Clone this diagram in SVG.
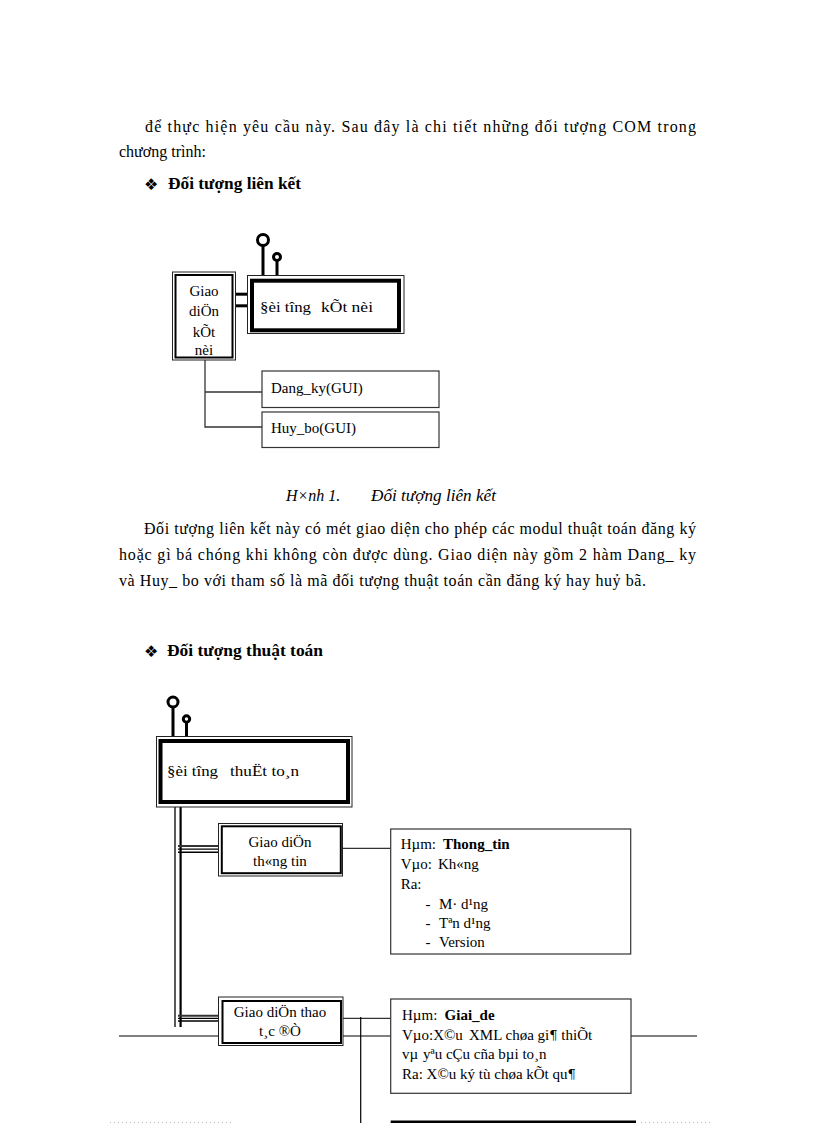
<svg xmlns="http://www.w3.org/2000/svg" width="816" height="1123" viewBox="0 0 816 1123">
<style>
.t{font-family:"Liberation Serif","Times New Roman",serif;font-size:16px;fill:#000}
.d{font-family:"Liberation Serif","Times New Roman",serif;font-size:15px;fill:#000}
.p{font-family:"DejaVu Serif",serif;font-size:13px;fill:#000}
.b{font-weight:bold}
.i{font-style:italic}
.bul{font-family:"DejaVu Sans",sans-serif;font-size:16px;fill:#000}
.thin{fill:#fff;stroke:#222;stroke-width:1}
.thick{fill:none;stroke:#000;stroke-width:4}
.dbl{fill:none;stroke:#000;stroke-width:2}
.box{fill:#fff;stroke:#333;stroke-width:1.2}
.ln{stroke:#333;stroke-width:1.3;fill:none}
.stem{stroke:#000;stroke-width:3}
.lol{fill:#fff;stroke:#000;stroke-width:3}
</style>
<rect width="816" height="1123" fill="#fff"/>

<!-- Body text -->
<g id="text">
<text class="t" x="145" y="132" textLength="551" lengthAdjust="spacing">để thực hiện yêu cầu này. Sau đây là chi tiết những đối tượng COM trong</text>
<text class="t" x="119" y="157">chương trình:</text>
<text class="bul" x="144" y="190">❖</text>
<text class="t b" x="168" y="189" textLength="133" lengthAdjust="spacingAndGlyphs">Đối tượng liên kết</text>
<text class="t i" x="286" y="501">H×nh 1.</text>
<text class="t i" x="371" y="501" textLength="125" lengthAdjust="spacingAndGlyphs">Đối tượng liên kết</text>
<text class="t" x="144" y="534" textLength="552" lengthAdjust="spacing">Đối tượng liên kết này có mét giao diện cho phép các modul thuật toán đăng ký</text>
<text class="t" x="119" y="560" textLength="577" lengthAdjust="spacing">hoặc gì bá chóng khi không còn được dùng. Giao diện này gồm 2 hàm Dang_ ky</text>
<text class="t" x="119" y="586" textLength="527" lengthAdjust="spacing">và Huy_ bo với tham số là mã đối tượng thuật toán cần đăng ký hay huỷ bã.</text>
<text class="bul" x="144" y="657">❖</text>
<text class="t b" x="167" y="656" textLength="156" lengthAdjust="spacingAndGlyphs">Đối tượng thuật toán</text>
</g>

<!-- Connectors -->
<g id="connectors">
<!-- diagram 1 -->
<line x1="235" y1="294.2" x2="251" y2="294.2" stroke="#000" stroke-width="3"/>
<line x1="235" y1="305.8" x2="251" y2="305.8" stroke="#000" stroke-width="3"/>
<polyline class="ln" points="205,360 205,427 262,427"/>
<line class="ln" x1="205" y1="392" x2="262" y2="392"/>
<!-- diagram 2 -->
<line x1="175" y1="807" x2="175" y2="1027" stroke="#000" stroke-width="1.3"/>
<line x1="180.6" y1="807" x2="180.6" y2="1027" stroke="#000" stroke-width="2.2"/>
<line x1="178" y1="846" x2="219" y2="846" stroke="#333" stroke-width="2"/>
<line x1="178" y1="849.2" x2="219" y2="849.2" stroke="#000" stroke-width="1.2"/>
<line x1="178" y1="852.3" x2="219" y2="852.3" stroke="#000" stroke-width="1.5"/>
<line x1="178" y1="1015.7" x2="219" y2="1015.7" stroke="#333" stroke-width="2"/>
<line x1="178" y1="1018.4" x2="219" y2="1018.4" stroke="#000" stroke-width="1.2"/>
<line x1="178" y1="1021" x2="219" y2="1021" stroke="#000" stroke-width="1.5"/>
<line class="ln" x1="342" y1="848.3" x2="391" y2="848.3"/>
<line class="ln" x1="342" y1="1018.3" x2="391" y2="1018.3"/>
<line x1="119" y1="1036" x2="697" y2="1036" stroke="#000" stroke-width="1"/>
<line x1="360.7" y1="1017" x2="360.7" y2="1123" stroke="#000" stroke-width="1.2"/>
</g>

<!-- Diagram 1 nodes -->
<g id="obj-lienket">
<line class="stem" x1="263" y1="245" x2="263" y2="281"/>
<circle class="lol" cx="263" cy="240" r="5.5"/>
<line class="stem" x1="277" y1="261" x2="277" y2="281"/>
<circle class="lol" cx="277" cy="257" r="3.5" stroke-width="2.5"/>
<rect class="thin" x="247.5" y="275.5" width="156.5" height="58"/>
<rect class="thick" x="252" y="280.7" width="147" height="49.6" stroke-width="3.8"/>
<text class="d" x="260" y="312" textLength="51" lengthAdjust="spacingAndGlyphs">§èi tîng</text>
<text class="d" x="321" y="312" textLength="52" lengthAdjust="spacingAndGlyphs">kÕt nèi</text>
</g>
<g id="if-ketnoi">
<rect class="thin" x="172.5" y="272" width="63" height="88"/>
<rect class="dbl" x="175.5" y="275" width="57" height="82.5"/>
<text class="d" text-anchor="middle"><tspan x="204" y="296">Giao</tspan><tspan x="204" y="316">diÖn</tspan><tspan x="204" y="337">kÕt</tspan><tspan x="204" y="355">nèi</tspan></text>
</g>
<g id="dangky">
<rect class="box" x="262" y="371" width="177" height="36.5"/>
<text class="d" x="271" y="393">Dang_ky(GUI)</text>
</g>
<g id="huybo">
<rect class="box" x="262" y="412" width="177" height="35.5"/>
<text class="d" x="271" y="432.5">Huy_bo(GUI)</text>
</g>

<!-- Diagram 2 nodes -->
<g id="obj-thuattoan">
<line class="stem" x1="173" y1="708" x2="173" y2="742"/>
<circle class="lol" cx="173" cy="702" r="5"/>
<line class="stem" x1="186.5" y1="722" x2="186.5" y2="742"/>
<circle class="lol" cx="186.5" cy="719" r="3.2" stroke-width="2.5"/>
<rect class="thin" x="156.5" y="736.5" width="195.5" height="70.5"/>
<rect class="thick" x="160.5" y="741" width="187.5" height="61" stroke-width="4.3"/>
<text class="d" x="167" y="776" textLength="51" lengthAdjust="spacingAndGlyphs">§èi tîng</text>
<text class="d" x="230" y="776" textLength="69" lengthAdjust="spacingAndGlyphs">thuËt to¸n</text>
</g>
<g id="if-thongtin">
<rect class="thin" x="218.5" y="823.5" width="124" height="52.5"/>
<rect class="dbl" x="221.8" y="826.3" width="119" height="46.9"/>
<text class="d" text-anchor="middle"><tspan x="280" y="847">Giao diÖn</tspan><tspan x="280" y="866">th«ng  tin</tspan></text>
</g>
<g id="info-thongtin">
<rect class="box" x="390.7" y="829" width="240" height="125"/>
<text class="d" x="400.7" y="849">Hµm:</text>
<text class="d b" x="443" y="849">Thong_tin</text>
<text class="d" x="400.7" y="869">Vµo:</text>
<text class="d" x="438" y="869">Kh«ng</text>
<text class="d" x="400.7" y="889">Ra:</text>
<text class="d" x="425.5" y="909">-</text>
<text class="d" x="439" y="909">M· d¹ng</text>
<text class="d" x="425.5" y="928">-</text>
<text class="d" x="439" y="928">Tªn d¹ng</text>
<text class="d" x="425.5" y="947">-</text>
<text class="d" x="439" y="947">Version</text>
</g>
<g id="if-thaotac">
<rect class="thin" x="218.5" y="997" width="124.5" height="48.5"/>
<rect class="dbl" x="222.5" y="1001" width="118.5" height="42"/>
<text class="d" text-anchor="middle"><tspan x="280" y="1017">Giao  diÖn thao</tspan><tspan x="280" y="1035.5">t¸c ®Ò</tspan></text>
</g>
<g id="info-giaide">
<rect class="box" x="390.7" y="999" width="240.3" height="94.3"/>
<text class="d" x="402" y="1020">Hµm:</text>
<text class="d b" x="444.6" y="1020">Giai_de</text>
<text class="d" x="402" y="1040">Vµo:X©u</text>
<text class="d" x="469" y="1040">XML chøa gi<tspan class="p">¶</tspan> thiÕt</text>
<text class="d" x="402" y="1059">vµ</text>
<text class="d" x="423" y="1059">yªu cÇu cña bµi to¸n</text>
<text class="d" x="402" y="1078.5">Ra: X©u ký tù chøa kÕt qu<tspan class="p">¶</tspan></text>
</g>
<g id="next-box">
<line x1="390.7" y1="1122" x2="636" y2="1122" stroke="#000" stroke-width="3"/>
</g>
<g id="margins">
<line x1="110" y1="1122.5" x2="233" y2="1122.5" stroke="#bbb" stroke-width="1" stroke-dasharray="1,3"/>
<line x1="641" y1="1122.5" x2="712" y2="1122.5" stroke="#bbb" stroke-width="1" stroke-dasharray="1,3"/>
</g>
</svg>
